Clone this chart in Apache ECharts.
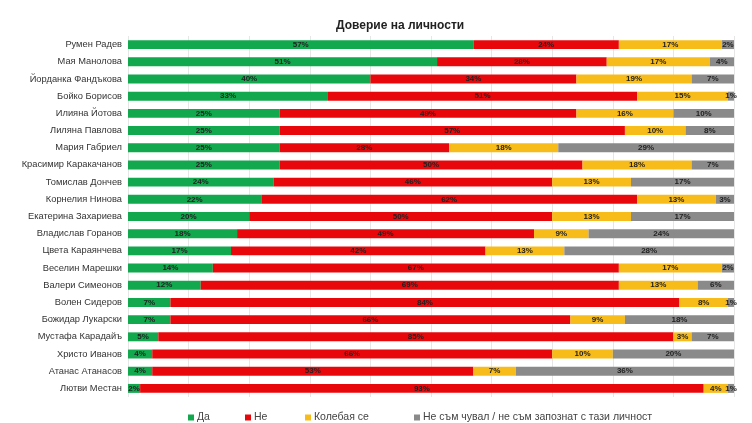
<!DOCTYPE html>
<html>
<head>
<meta charset="utf-8">
<script src="https://cdn.jsdelivr.net/npm/echarts@6/dist/echarts.min.js"></script>
<style>
html,body{margin:0;padding:0;background:#fff;}
#c{width:752px;height:423px;}
</style>
</head>
<body>
<div id="c"></div>
<script>
const categories = ["Румен Радев","Мая Манолова","Йорданка Фандъкова","Бойко Борисов","Илияна Йотова","Лиляна Павлова","Мария Габриел","Красимир Каракачанов","Томислав Дончев","Корнелия Нинова","Екатерина Захариева","Владислав Горанов","Цвета Караянчева","Веселин Марешки","Валери Симеонов","Волен Сидеров","Божидар Лукарски","Мустафа Карадайъ","Христо Иванов","Атанас Атанасов","Лютви Местан"];
const seriesNames = ["Да","Не","Колебая се","Не съм чувал / не съм запознат с тази личност"];
const yes = [57,51,40,33,25,25,25,25,24,22,20,18,17,14,12,7,7,5,4,4,2];
const no = [24,28,34,51,49,57,28,50,46,62,50,49,42,67,69,84,66,85,66,53,93];
const hesitant = [17,17,19,15,16,10,18,18,13,13,13,9,13,17,13,8,9,3,10,7,4];
const unknown = [2,4,7,1,10,8,29,7,17,3,17,24,28,2,6,1,18,7,20,36,1];
const colors = ["#12A84E","#E8080C","#F8BC1A","#8A8A8A"];
const font = "'Liberation Sans Narrow', 'Liberation Sans', Arial, sans-serif";

const allData = [yes, no, hesitant, unknown];
const chart = echarts.init(document.getElementById('c'));
const legendLefts = [183, 240, 300, 409];
chart.setOption({
  animation: false,
  backgroundColor: '#fff',
  title: {
    text: 'Доверие на личности',
    left: 331, top: 15,
    textStyle: {fontFamily: font, fontSize: 12, fontWeight: 'bold', color: '#222'}
  },
  legend: seriesNames.map((n, i) => ({
    data: [n], left: legendLefts[i], top: 407,
    icon: 'rect', itemWidth: 6, itemHeight: 6, itemGap: 4,
    textStyle: {fontFamily: font, fontSize: 10.5, color: '#444', padding: [0,0,0,-2]}
  })),
  grid: {left: 128, right: 18, top: 36, bottom: 26},
  xAxis: {
    type: 'value', min: 0, max: 100, interval: 10,
    axisLabel: {show: false}, axisLine: {show: false}, axisTick: {show: false},
    splitLine: {lineStyle: {color: '#e6e6e6', width: 1}}
  },
  yAxis: {
    type: 'category', data: categories, inverse: true,
    axisLine: {show: false}, axisTick: {show: false},
    axisLabel: {fontFamily: font, fontSize: 9.3, color: '#333', margin: 6}
  },
  series: seriesNames.map((n, i) => ({
    name: n, type: 'bar', stack: 'total', data: allData[i], barWidth: '52%',
    itemStyle: {color: colors[i]},
    label: {show: true, position: 'inside', formatter: '{c}%',
      fontFamily: font, fontSize: 8, fontWeight: 'bold', color: '#222'}
  }))
});
</script>
</body>
</html>
